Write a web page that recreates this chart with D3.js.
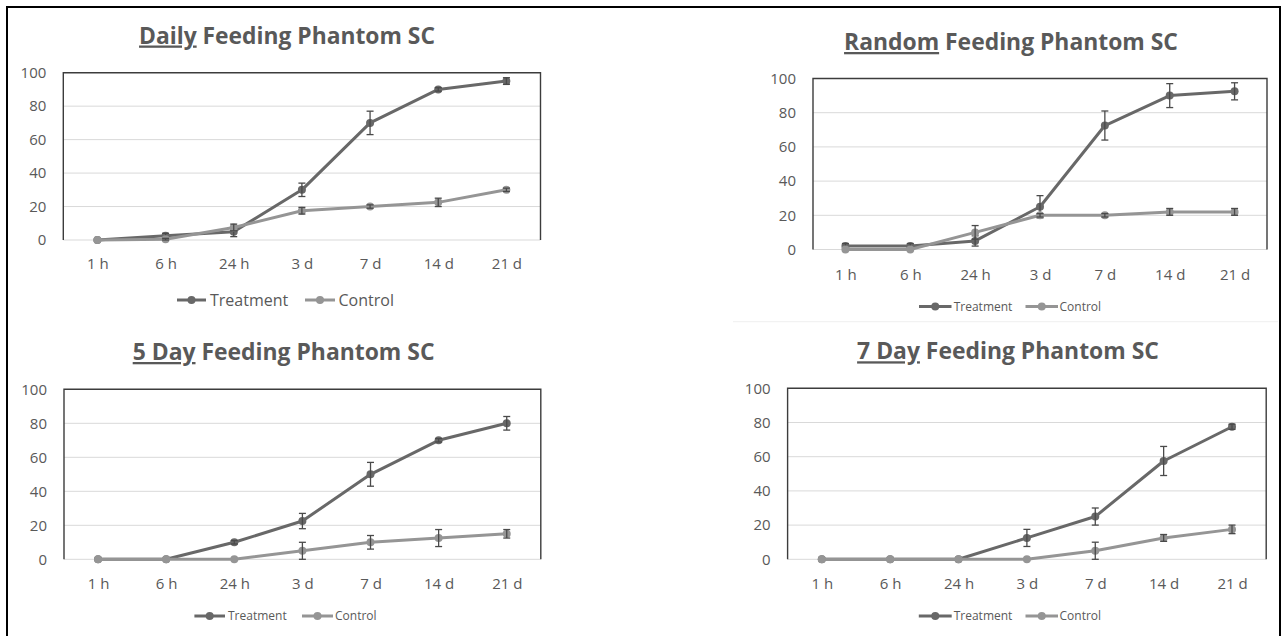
<!DOCTYPE html>
<html>
<head>
<meta charset="utf-8">
<script src="https://cdn.jsdelivr.net/npm/d3@7"></script>
<style>
  html, body { margin: 0; padding: 0; background: #fff; }
  svg { display: block; }
  text { font-family: "Open Sans", "DejaVu Sans", sans-serif; fill: #595959; }
</style>
</head>
<body>
<svg id="chart" width="1283" height="636"></svg>
<script>
// ---------- DATA ----------
const categories = ["1 h", "6 h", "24 h", "3 d", "7 d", "14 d", "21 d"];
const yTicks = [0, 20, 40, 60, 80, 100];
const seriesNames = ["Treatment", "Control"];
const titleUnderlined = ["Daily", "Random", "5 Day", "7 Day"];
const titleRest = " Feeding Phantom SC";

const dailyTreatment    = [0, 2.5, 5, 30, 70, 90, 95];
const dailyTreatmentErr = [0, 1.5, 3, 4, 7, 1, 2];
const dailyControl      = [0, 0.5, 7.5, 17.5, 20, 22.5, 30];
const dailyControlErr   = [0, 0.5, 2, 2, 1, 2.5, 1];

const randomTreatment    = [2, 2, 5, 25, 72.5, 90, 92.5];
const randomTreatmentErr = [1.5, 1.5, 3, 6.5, 8.5, 7, 5];
const randomControl      = [0, 0, 10, 20, 20, 22, 22];
const randomControlErr   = [0, 0, 4, 1, 1, 2, 2];

const day5Treatment    = [0, 0, 10, 22.5, 50, 70, 80];
const day5TreatmentErr = [0, 0, 1, 4.5, 7, 1, 4];
const day5Control      = [0, 0, 0, 5, 10, 12.5, 15];
const day5ControlErr   = [0, 0, 0, 5, 4, 5, 2.5];

const day7Treatment    = [0, 0, 0, 12.5, 25, 57.5, 77.5];
const day7TreatmentErr = [0, 0, 0, 5, 5, 8.5, 1.5];
const day7Control      = [0, 0, 0, 0, 5, 12.5, 17.5];
const day7ControlErr   = [0, 0, 0, 0, 5, 2, 2.5];

// ---------- LAYOUT ----------
const layouts = [
  { left: 63.3, right: 540.5, top: 72.7, bottom: 240, titleX: 287, titleY: 43.5, titleW: 296,
    xBase: 268.5, legY: 300, legFont: 16, legT: [177, 206, 210], legC: [305, 335, 338.5] },
  { left: 813, right: 1267, top: 78.5, bottom: 249.5, titleX: 1011, titleY: 50, titleW: 334,
    xBase: 279.5, legY: 306.5, legFont: 12, legT: [919, 951.5, 953.7], legC: [1025.5, 1058, 1059.5] },
  { left: 64, right: 540.8, top: 389.3, bottom: 559.3, titleX: 283.6, titleY: 360, titleW: 302,
    xBase: 589, legY: 616, legFont: 12, legT: [194.4, 225, 228], legC: [302, 333, 335] },
  { left: 787.6, right: 1266.2, top: 388.3, bottom: 559.3, titleX: 1008, titleY: 359.3, titleW: 302,
    xBase: 589, legY: 616, legFont: 12, legT: [918.8, 951.7, 953.7], legC: [1025.5, 1058, 1059.5] }
];

const panelData = [
  [[dailyTreatment, dailyTreatmentErr], [dailyControl, dailyControlErr]],
  [[randomTreatment, randomTreatmentErr], [randomControl, randomControlErr]],
  [[day5Treatment, day5TreatmentErr], [day5Control, day5ControlErr]],
  [[day7Treatment, day7TreatmentErr], [day7Control, day7ControlErr]]
];

const colors = ["#686868", "#959595"];
const errColor = "#4a4a4a";

const svg = d3.select("#chart");

// outer frame
svg.append("path")
  .attr("d", "M7,640 V7 H1280 V640")
  .attr("fill", "none").attr("stroke", "#000").attr("stroke-width", 2);
// faint edge of lower-right chart image
svg.append("line")
  .attr("x1", 733).attr("x2", 1278).attr("y1", 321.7).attr("y2", 321.7)
  .attr("stroke", "#efefef").attr("stroke-width", 1);

layouts.forEach((L, p) => {
  const g = svg.append("g");
  const x = d3.scalePoint().domain(categories).range([L.left, L.right]).padding(0.5);
  const y = d3.scaleLinear().domain([0, 100]).range([L.bottom, L.top]);

  // gridlines
  g.append("g").selectAll("line").data(yTicks.filter(v => v < 100)).join("line")
    .attr("x1", L.left).attr("x2", L.right)
    .attr("y1", d => y(d)).attr("y2", d => y(d))
    .attr("stroke", "#d9d9d9").attr("stroke-width", 1);

  // plot border (top, left, right)
  g.append("path")
    .attr("d", `M${L.left},${y(0)} V${y(100)} H${L.right} V${y(0)}`)
    .attr("fill", "none").attr("stroke", "#3c3c3c").attr("stroke-width", 1.4);

  // axes
  const yAxis = g.append("g").attr("transform", `translate(${L.left},0)`)
    .call(d3.axisLeft(y).tickValues(yTicks).tickSize(0).tickPadding(17));
  yAxis.select(".domain").remove();
  yAxis.selectAll("text").attr("font-size", 15).attr("fill", "#595959")
    .style("font-family", '"Open Sans", sans-serif');

  const xAxis = g.append("g").attr("transform", `translate(0,${L.bottom})`)
    .call(d3.axisBottom(x).tickSize(0).tickPadding(L.xBase - L.bottom - 10.6));
  xAxis.select(".domain").remove();
  xAxis.selectAll("text").attr("font-size", 15).attr("fill", "#595959")
    .style("font-family", '"Open Sans", sans-serif');

  // series
  const line = d3.line().x((d, i) => x(categories[i])).y(d => y(d));
  panelData[p].forEach(([vals, errs], s) => {
    const sg = g.append("g");
    sg.append("path").datum(vals)
      .attr("d", line).attr("fill", "none")
      .attr("stroke", colors[s]).attr("stroke-width", 3).attr("stroke-linejoin", "round");
    sg.selectAll("circle").data(vals).join("circle")
      .attr("cx", (d, i) => x(categories[i])).attr("cy", d => y(d))
      .attr("r", 4).attr("fill", colors[s]);
    const eb = sg.selectAll("g.eb").data(vals.map((v, i) => ({ v, e: errs[i], c: categories[i] })).filter(d => d.e > 0))
      .join("g").attr("class", "eb");
    eb.append("line")
      .attr("x1", d => x(d.c)).attr("x2", d => x(d.c))
      .attr("y1", d => y(d.v + d.e)).attr("y2", d => y(Math.max(0, d.v - d.e)))
      .attr("stroke", errColor).attr("stroke-width", 1.3);
    eb.append("line")
      .attr("x1", d => x(d.c) - 3.5).attr("x2", d => x(d.c) + 3.5)
      .attr("y1", d => y(d.v + d.e)).attr("y2", d => y(d.v + d.e))
      .attr("stroke", errColor).attr("stroke-width", 1.3);
    eb.filter(d => d.v - d.e >= 0).append("line")
      .attr("x1", d => x(d.c) - 3.5).attr("x2", d => x(d.c) + 3.5)
      .attr("y1", d => y(d.v - d.e)).attr("y2", d => y(d.v - d.e))
      .attr("stroke", errColor).attr("stroke-width", 1.3);
  });

  // title
  const t = g.append("text")
    .attr("x", L.titleX).attr("y", L.titleY)
    .attr("text-anchor", "middle").attr("font-weight", "bold")
    .attr("font-size", 20).attr("fill", "#595959");
  t.append("tspan").style("text-decoration", "underline").text(titleUnderlined[p]);
  t.append("tspan").text(titleRest);
  const w = t.node().getComputedTextLength();
  t.attr("font-size", 20 * L.titleW / w);

  // legend
  [L.legT, L.legC].forEach((pos, s) => {
    g.append("line").attr("x1", pos[0]).attr("x2", pos[1])
      .attr("y1", L.legY).attr("y2", L.legY)
      .attr("stroke", colors[s]).attr("stroke-width", 3);
    g.append("circle").attr("cx", (pos[0] + pos[1]) / 2).attr("cy", L.legY)
      .attr("r", 4).attr("fill", colors[s]);
    g.append("text").attr("x", pos[2]).attr("y", L.legY)
      .attr("dy", "0.36em").attr("font-size", L.legFont)
      .attr("fill", "#595959").text(seriesNames[s]);
  });
});
</script>
</body>
</html>
